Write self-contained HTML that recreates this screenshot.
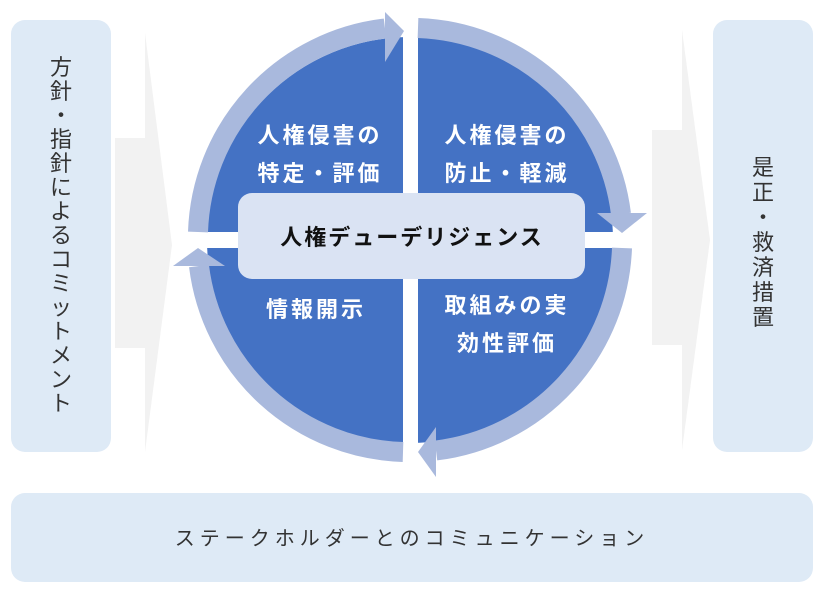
<!DOCTYPE html>
<html><head><meta charset="utf-8"><style>
body{margin:0;background:#fff;}
svg{display:block;}
text{font-family:"Liberation Sans","Noto Sans CJK JP",sans-serif;}
</style></head><body>
<svg width="831" height="596" viewBox="0 0 831 596" xmlns="http://www.w3.org/2000/svg">
<polygon points="115,138 145,138 145,33 172,245 145,452 145,348 115,348" fill="#f2f2f2"/>
<polygon points="652,130 682,130 682,30 710,240 682,450 682,345 652,345" fill="#f2f2f2"/>
<rect x="11" y="20" width="100" height="432" rx="14" fill="#deeaf6"/>
<rect x="713" y="20" width="100" height="432" rx="14" fill="#deeaf6"/>
<rect x="11" y="493" width="802" height="89" rx="14" fill="#deeaf6"/>
<g font-size="22" fill="#333" text-anchor="middle">
<text x="61" y="75">方</text><text x="61" y="99">針</text><text x="61" y="123">・</text><text x="61" y="147">指</text><text x="61" y="171">針</text><text x="61" y="195">に</text><text x="61" y="219">よ</text><text x="61" y="243">る</text><text x="61" y="267">コ</text><text x="61" y="291">ミ</text><text x="61" y="315">ッ</text><text x="61" y="339">ト</text><text x="61" y="363">メ</text><text x="61" y="387">ン</text><text x="61" y="411">ト</text>
<text x="763" y="175">是</text><text x="763" y="200">正</text><text x="763" y="225">・</text><text x="763" y="250">救</text><text x="763" y="275">済</text><text x="763" y="300">措</text><text x="763" y="325">置</text>
</g>
<text x="412" y="545" font-size="20" fill="#333" text-anchor="middle" letter-spacing="5">ステークホルダーとのコミュニケーション</text>
<circle cx="410" cy="240" r="203" fill="#4472c4"/>
<rect x="403" y="20" width="15" height="450" fill="#fff"/>
<rect x="180" y="232" width="460" height="16" fill="#fff"/>
<g fill="none" stroke="#a9b9dd" stroke-width="20">
<path d="M198,232 A212,212 0 0 1 385,28.5"/>
<path d="M418,28 A212,212 0 0 1 621,214"/>
<path d="M622,248 A212,212 0 0 1 436,450.5"/>
<path d="M403,452 A212,212 0 0 1 199,266"/>
</g>
<g fill="#a9b9dd">
<polygon points="385,12 385,62 404,31"/>
<polygon points="597,213 647,213 622,233"/>
<polygon points="436,427 436,477 418,452"/>
<polygon points="173,266 225,266 198,248"/>
</g>
<rect x="238" y="193" width="347" height="86" rx="14" fill="#dae3f3"/>
<text x="412" y="245" font-size="22" font-weight="bold" fill="#111" text-anchor="middle" letter-spacing="2">人権デューデリジェンス</text>
<g font-size="22" font-weight="bold" fill="#fff" text-anchor="middle" letter-spacing="3">
<text x="320" y="143">人権侵害の</text><text x="320" y="181">特定・評価</text>
<text x="507" y="143">人権侵害の</text><text x="507" y="181">防止・軽減</text>
<text x="316" y="317">情報開示</text>
<text x="507" y="313">取組みの実</text><text x="507" y="351">効性評価</text>
</g>
</svg>
</body></html>
